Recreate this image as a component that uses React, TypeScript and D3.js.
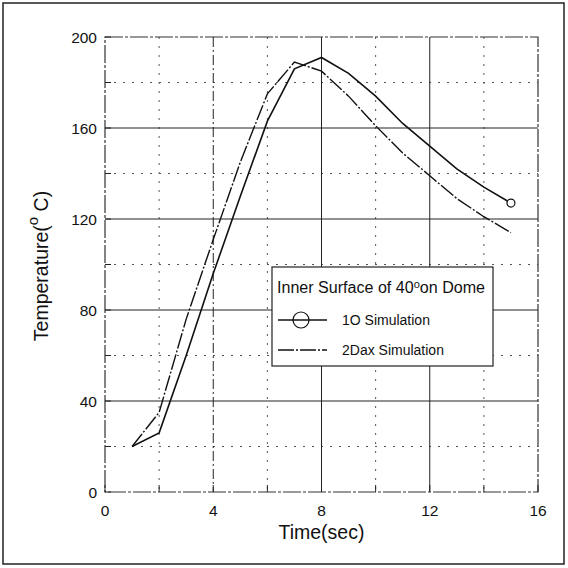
import React from "react";
import * as d3 from "d3";

const times = [1, 2, 3, 4, 5, 6, 7, 8, 9, 10, 11, 12, 13, 14, 15];
const sim1D = [20, 26, 60, 96, 130, 163, 186, 191, 184, 174, 162, 152, 142, 134, 127];
const sim2Dax = [20, 35, 76, 111, 145, 175, 189, 185, 174, 161, 149, 139, 129, 121, 114];
const xTicks = [0, 4, 8, 12, 16];
const xMinor = [2, 6, 10, 14];
const yTicks = [0, 40, 80, 120, 160, 200];
const yMinor = [20, 60, 100, 140, 180];

const W = 568;
const H = 568;
const left = 105, right = 538, top = 37, bottom = 492;
const font = "Arial, 'Liberation Sans', sans-serif";

export default function App() {
  const x = d3.scaleLinear().domain([0, 16]).range([left, right]);
  const y = d3.scaleLinear().domain([0, 200]).range([bottom, top]);
  const line = d3
    .line<number>()
    .x((_, i) => x(times[i]))
    .y((d) => y(d));

  const lgX = 272, lgY = 267, lgW = 221, lgH = 99;

  return (
    <svg
      width={W}
      height={H}
      style={{ position: "absolute", left: 0, top: 0, background: "#fff" }}
      fontFamily={font}
    >
      <rect x={0} y={0} width={W} height={H} fill="#fff" />
      <rect x={3} y={3} width={561} height={561} fill="none" stroke="#222" strokeWidth={1.5} />

      {/* minor grid */}
      {yMinor.map((v) => (
        <line key={"ym" + v} x1={left} x2={right} y1={y(v)} y2={y(v)} stroke="#555" strokeWidth={1} strokeDasharray="2,7" />
      ))}
      {xMinor.map((v) => (
        <line key={"xm" + v} x1={x(v)} x2={x(v)} y1={top} y2={bottom} stroke="#555" strokeWidth={1} strokeDasharray="2,7" />
      ))}
      {/* major grid */}
      {yTicks.slice(1, -1).map((v) => (
        <line key={"yg" + v} x1={left} x2={right} y1={y(v)} y2={y(v)} stroke="#222" strokeWidth={1} />
      ))}
      {xTicks.slice(1, -1).map((v) => (
        <line key={"xg" + v} x1={x(v)} x2={x(v)} y1={top} y2={bottom} stroke="#222" strokeWidth={1} strokeDasharray={v === 4 ? "10,3,2,3" : undefined} />
      ))}

      {/* plot box */}
      <rect x={left} y={top} width={right - left} height={bottom - top} fill="none" stroke="#333" strokeWidth={1.2} strokeDasharray="18,2,3,2" />

      {/* ticks */}
      {[...yTicks, ...yMinor].map((v) => (
        <line key={"yt" + v} x1={left} x2={left + 6} y1={y(v)} y2={y(v)} stroke="#222" strokeWidth={1} />
      ))}
      {[...xTicks, ...xMinor].map((v) => (
        <line key={"xt" + v} x1={x(v)} x2={x(v)} y1={bottom} y2={bottom - 7} stroke="#222" strokeWidth={1} />
      ))}

      {/* tick labels */}
      {yTicks.map((v) => (
        <text key={"yl" + v} x={left - 8} y={y(v) + 5.5} textAnchor="end" fontSize={15.5} fill="#111">
          {v}
        </text>
      ))}
      {xTicks.map((v) => (
        <text key={"xl" + v} x={x(v)} y={bottom + 24} textAnchor="middle" fontSize={15.5} fill="#111">
          {v}
        </text>
      ))}

      {/* axis titles */}
      <text x={(left + right) / 2} y={539} textAnchor="middle" fontSize={19.5} fill="#111">
        Time(sec)
      </text>
      <text transform="translate(48,266) rotate(-90)" textAnchor="middle" fontSize={19.5} fill="#111">
        Temperature(
        <tspan dy={-10} fontSize={15}>o</tspan>
        <tspan dy={10}> C)</tspan>
      </text>

      {/* series */}
      <path d={line(sim2Dax) || ""} fill="none" stroke="#111" strokeWidth={1.4} strokeDasharray="16,2,2,2" />
      <path d={line(sim1D) || ""} fill="none" stroke="#111" strokeWidth={1.6} />
      <circle cx={x(times[times.length - 1])} cy={y(sim1D[sim1D.length - 1])} r={4} fill="#fff" stroke="#111" strokeWidth={1.2} />

      {/* legend */}
      <rect x={lgX} y={lgY} width={lgW} height={lgH} fill="#fff" stroke="#222" strokeWidth={1.2} />
      <text x={lgX + 5} y={lgY + 26} fontSize={16} fill="#111" textLength={208} lengthAdjust="spacingAndGlyphs">
        Inner Surface of 40
        <tspan dy={-5} fontSize={11}>o</tspan>
        <tspan dy={5}>on Dome</tspan>
      </text>
      <line x1={lgX + 6} x2={lgX + 55} y1={lgY + 53} y2={lgY + 53} stroke="#111" strokeWidth={1.4} />
      <circle cx={lgX + 29} cy={lgY + 53} r={8} fill="none" stroke="#111" strokeWidth={1.2} />
      <text x={lgX + 70} y={lgY + 58} fontSize={14} fill="#111">
        1O Simulation
      </text>
      <line x1={lgX + 6} x2={lgX + 55} y1={lgY + 83} y2={lgY + 83} stroke="#111" strokeWidth={1.4} strokeDasharray="16,2,2,2" />
      <text x={lgX + 70} y={lgY + 88} fontSize={14} fill="#111">
        2Dax Simulation
      </text>
    </svg>
  );
}
